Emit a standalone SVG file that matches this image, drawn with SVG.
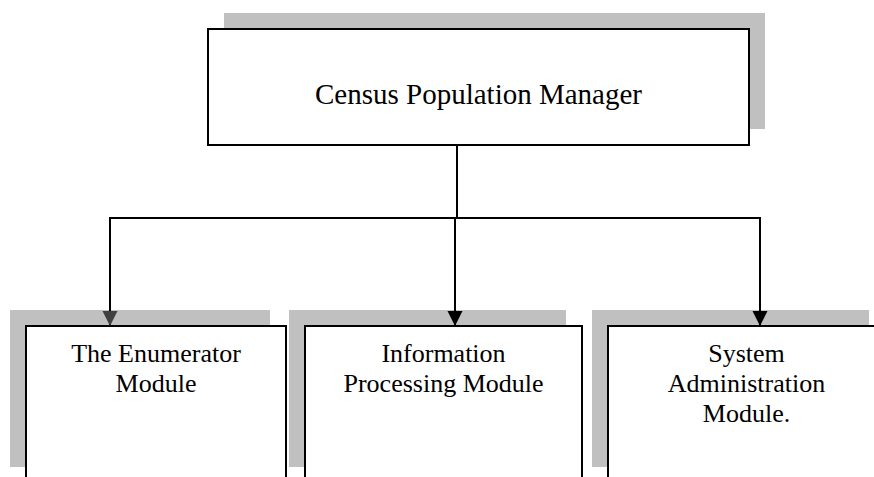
<svg xmlns="http://www.w3.org/2000/svg" width="874" height="477" viewBox="0 0 874 477">
  <style>
    .shadow { fill: #c0c0c0; }
    .box { fill: #ffffff; stroke: #000000; stroke-width: 2; }
    .label { font-family: "Liberation Serif", "Times New Roman", serif; fill: #000000; text-anchor: middle; }
    .title { font-size: 29px; }
    .sub { font-size: 26px; }
    .wire { fill: none; stroke: #000000; stroke-width: 2; }
  </style>
  <defs>
    <marker id="arrow" markerUnits="userSpaceOnUse" markerWidth="16" markerHeight="16" viewBox="0 0 16 16" refX="15" refY="8" orient="auto">
      <path d="M0,0.5 L15,8 L0,15.5 Z" fill="#000000"/>
    </marker>
    <marker id="arrow-dark" markerUnits="userSpaceOnUse" markerWidth="16" markerHeight="16" viewBox="0 0 16 16" refX="15" refY="8" orient="auto">
      <path d="M0,0.5 L15,8 L0,15.5 Z" fill="#404040"/>
    </marker>
  </defs>

  <rect width="874" height="477" fill="#ffffff"/>

  <g id="manager">
    <rect class="shadow" x="224" y="13" width="541" height="116"/>
    <rect class="box" x="208" y="29" width="541" height="116"/>
    <text class="label title" x="478.5" y="104">Census Population Manager</text>
  </g>

  <g id="enumerator">
    <rect class="shadow" x="10" y="310" width="260" height="157"/>
    <rect class="box" x="26" y="326" width="260" height="160"/>
    <text class="label sub" x="156" y="362">The Enumerator</text>
    <text class="label sub" x="156" y="392">Module</text>
  </g>

  <g id="processing">
    <rect class="shadow" x="289" y="310" width="277" height="157"/>
    <rect class="box" x="305" y="326" width="277" height="160"/>
    <text class="label sub" x="443.5" y="362">Information</text>
    <text class="label sub" x="443.5" y="392">Processing Module</text>
  </g>

  <g id="administration">
    <rect class="shadow" x="592" y="310" width="277" height="157"/>
    <rect class="box" x="608" y="326" width="277" height="160"/>
    <text class="label sub" x="746.5" y="362">System</text>
    <text class="label sub" x="746.5" y="392">Administration</text>
    <text class="label sub" x="746.5" y="422">Module.</text>
  </g>

  <g id="connectors">
    <line class="wire" x1="457" y1="145" x2="457" y2="218"/>
    <line class="wire" x1="109" y1="218" x2="761" y2="218"/>
    <line class="wire" x1="110" y1="217" x2="110" y2="326" marker-end="url(#arrow-dark)"/>
    <line class="wire" x1="455" y1="218" x2="455" y2="326" marker-end="url(#arrow)"/>
    <line class="wire" x1="760" y1="217" x2="760" y2="326" marker-end="url(#arrow)"/>
  </g>
</svg>
